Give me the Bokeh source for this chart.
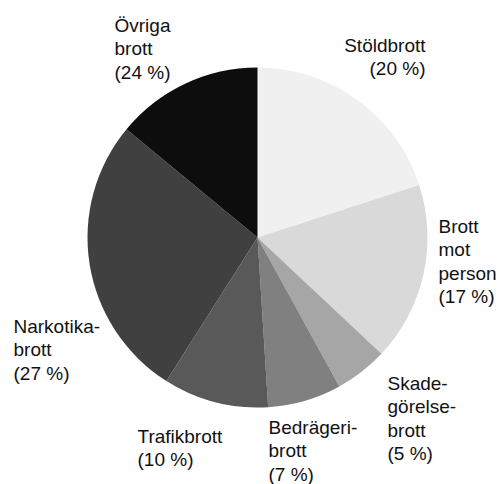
import math
from bokeh.plotting import figure
from bokeh.models import ColumnDataSource
from bokeh.core.properties import value
from bokeh.embed import file_html
from bokeh.resources import INLINE

# Slice data (sizes, clockwise from 12 o'clock)
categories = ["Stöldbrott", "Brott mot person", "Skadegörelsebrott", "Bedrägeribrott",
              "Trafikbrott", "Narkotikabrott", "Övriga brott"]
shares = [20, 17, 5, 7, 10, 27, 14]
label_texts = ["Stöldbrott\n(20 %)", "Brott\nmot\nperson\n(17 %)", "Skade-\ngörelse-\nbrott\n(5 %)",
               "Bedrägeri-\nbrott\n(7 %)", "Trafikbrott\n(10 %)", "Narkotika-\nbrott\n(27 %)",
               "Övriga\nbrott\n(24 %)"]
colors = ["#f0f0f0", "#d9d9d9", "#a6a6a6", "#808080", "#595959", "#404040", "#0d0d0d"]

W, H = 502, 484
p = figure(width=W, height=H, x_range=(0, W), y_range=(0, H), output_backend="svg",
           toolbar_location=None, min_border=0)
p.axis.visible = False
p.grid.visible = False
p.outline_line_color = None

def px(x):
    return x
def py(y):
    return H - y

total = sum(shares)
starts, ends = [], []
cum = 0.0
for s in shares:
    starts.append(math.pi / 2 - 2 * math.pi * cum / total)
    cum += s
    ends.append(math.pi / 2 - 2 * math.pi * cum / total)

src = ColumnDataSource(dict(start=starts, end=ends, color=colors, cat=categories))
p.wedge(x=px(257), y=py(237), radius=170, start_angle="start", end_angle="end",
        direction="clock", fill_color="color", line_color=None, source=src)

# label anchors (page px, top of text block)
anchors = [(425, 34, "right"), (438, 215, "left"), (387, 372, "left"), (268, 416, "left"),
           (137, 425, "left"), (13, 315, "left"), (114, 14, "left")]
for t, (ax, ay, al) in zip(label_texts, anchors):
    p.text(x=[px(ax)], y=[py(ay)], text=[t], text_align=al, text_baseline="top",
           text_font=value("Liberation Sans"), text_font_size="19px",
           text_color="#111111", text_line_height=1.12)

open("out.html", "w").write(file_html(p, INLINE))
